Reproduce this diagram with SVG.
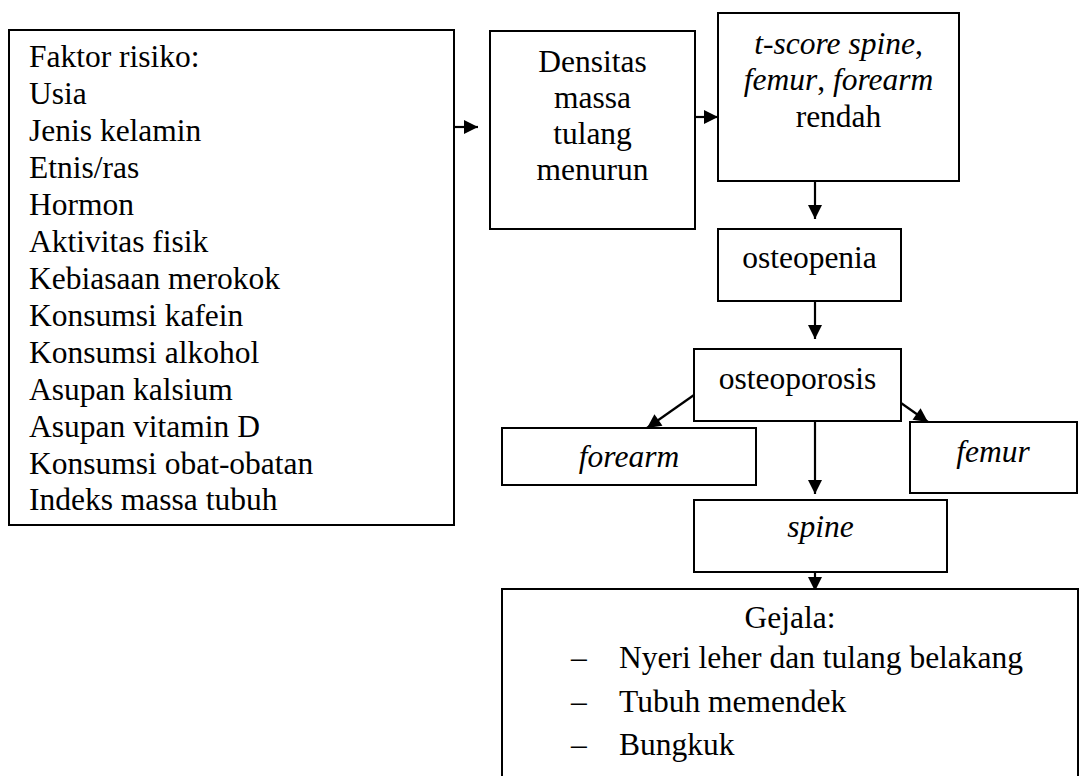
<svg xmlns="http://www.w3.org/2000/svg" width="1079" height="776" viewBox="0 0 1079 776">
<style>
text{font-family:"Liberation Serif","Times New Roman",serif;font-size:31.5px;fill:#000}
.c{text-anchor:middle}
.i{font-style:italic}
.b{fill:#fff;stroke:#000;stroke-width:2}
.ln{stroke:#000;stroke-width:2.2;fill:none}
</style>
<defs>
<marker id="ah" markerUnits="userSpaceOnUse" markerWidth="16" markerHeight="16" viewBox="0 0 16 16" refX="15" refY="8" orient="auto">
<path d="M1,1 L15,8 L1,15 Z" fill="#000"/>
</marker>
</defs>
<rect width="1079" height="776" fill="#fff"/>
<g id="connectors">
<line class="ln" x1="455" y1="127" x2="478" y2="127" marker-end="url(#ah)"/>
<line class="ln" x1="695" y1="117" x2="718" y2="117" marker-end="url(#ah)"/>
<line class="ln" x1="815" y1="181" x2="815" y2="219" marker-end="url(#ah)"/>
<line class="ln" x1="815" y1="301" x2="815" y2="339" marker-end="url(#ah)"/>
<line class="ln" x1="694" y1="395" x2="647" y2="428" marker-end="url(#ah)"/>
<line class="ln" x1="815" y1="421" x2="815" y2="494" marker-end="url(#ah)"/>
<line class="ln" x1="901" y1="403" x2="928" y2="422" marker-end="url(#ah)"/>
<line class="ln" x1="815" y1="572" x2="815" y2="591" marker-end="url(#ah)"/>
</g>
<g id="faktor">
<rect class="b" x="9" y="30" width="445" height="495"/>
<text x="29" y="67">Faktor risiko:</text>
<text x="29" y="104">Usia</text>
<text x="29" y="141">Jenis kelamin</text>
<text x="29" y="178">Etnis/ras</text>
<text x="29" y="215">Hormon</text>
<text x="29" y="252">Aktivitas fisik</text>
<text x="29" y="289">Kebiasaan merokok</text>
<text x="29" y="326">Konsumsi kafein</text>
<text x="29" y="363">Konsumsi alkohol</text>
<text x="29" y="400">Asupan kalsium</text>
<text x="29" y="437">Asupan vitamin D</text>
<text x="29" y="474">Konsumsi obat-obatan</text>
<text x="29" y="510">Indeks massa tubuh</text>
</g>
<g id="densitas">
<rect class="b" x="490" y="31" width="205" height="198"/>
<text class="c" x="592.5" y="72">Densitas</text>
<text class="c" x="592.5" y="108">massa</text>
<text class="c" x="592.5" y="144">tulang</text>
<text class="c" x="592.5" y="180">menurun</text>
</g>
<g id="tscore">
<rect class="b" x="718" y="13" width="241" height="168"/>
<text class="c" x="838.5" y="54"><tspan class="i">t-score spine</tspan>,</text>
<text class="c" x="838.5" y="90"><tspan class="i">femur</tspan>, <tspan class="i">forearm</tspan></text>
<text class="c" x="838.5" y="127">rendah</text>
</g>
<g id="osteopenia">
<rect class="b" x="718" y="229" width="183" height="72"/>
<text class="c" x="809.5" y="268">osteopenia</text>
</g>
<g id="osteoporosis">
<rect class="b" x="694" y="349" width="207" height="72"/>
<text class="c" x="797.5" y="389">osteoporosis</text>
</g>
<g id="forearm">
<rect class="b" x="502" y="428" width="254" height="57"/>
<text class="c i" x="629" y="467">forearm</text>
</g>
<g id="femur">
<rect class="b" x="910" y="422" width="167" height="71"/>
<text class="c i" x="993" y="462">femur</text>
</g>
<g id="spine">
<rect class="b" x="694" y="500" width="253" height="72"/>
<text class="c i" x="820.5" y="537">spine</text>
</g>
<g id="gejala">
<rect class="b" x="502" y="589" width="576" height="200"/>
<text class="c" x="790" y="628">Gejala:</text>
<text x="571" y="668">–</text>
<text x="619" y="668">Nyeri leher dan tulang belakang</text>
<text x="571" y="712">–</text>
<text x="619" y="712">Tubuh memendek</text>
<text x="571" y="755">–</text>
<text x="619" y="755">Bungkuk</text>
</g>
</svg>
